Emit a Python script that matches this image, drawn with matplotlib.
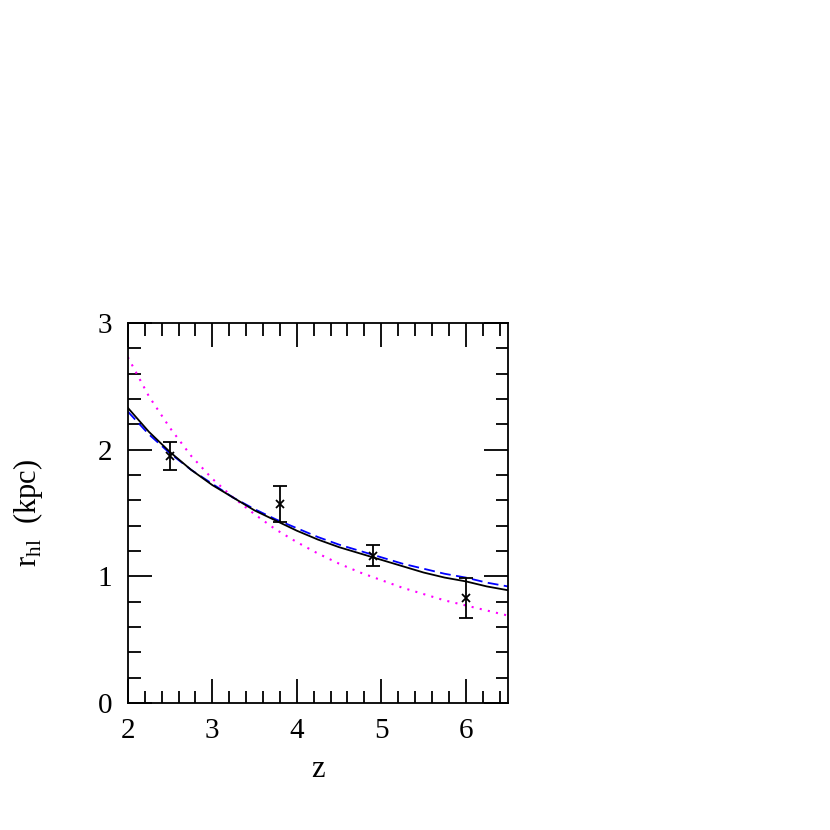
import numpy as np
import matplotlib
matplotlib.use('Agg')
import matplotlib.pyplot as plt
from matplotlib.ticker import MultipleLocator

plt.rcParams['font.family'] = 'serif'
plt.rcParams['font.serif'] = ['Liberation Serif', 'DejaVu Serif']
plt.rcParams['mathtext.fontset'] = 'custom'
plt.rcParams['mathtext.rm'] = 'Liberation Serif'

# measured half-light radii
z_obs = [2.5, 3.8, 4.9, 6.0]
r_obs = [1.95, 1.57, 1.16, 0.83]
r_lo = [1.84, 1.43, 1.08, 0.67]
r_hi = [2.06, 1.71, 1.25, 0.99]

# model curves
z_mod = [2.0, 2.25, 2.5, 2.75, 3.0, 3.25, 3.5, 3.75, 4.0, 4.25,
         4.5, 4.75, 5.0, 5.25, 5.5, 5.75, 6.0, 6.25, 6.5]
r_solid = [2.33, 2.14, 1.98, 1.84, 1.72, 1.62, 1.52, 1.44, 1.36, 1.29,
           1.23, 1.18, 1.13, 1.08, 1.03, 0.99, 0.96, 0.92, 0.89]
r_dashed = [2.30, 2.12, 1.97, 1.84, 1.73, 1.62, 1.53, 1.45, 1.38, 1.31,
            1.25, 1.20, 1.15, 1.10, 1.06, 1.02, 0.99, 0.95, 0.92]
r_dotted = [2.73, 2.42, 2.17, 1.95, 1.77, 1.62, 1.49, 1.37, 1.27, 1.18,
            1.10, 1.03, 0.97, 0.91, 0.86, 0.81, 0.77, 0.73, 0.69]

fig = plt.figure(figsize=(8.3, 8.3), dpi=100)
ax = fig.add_axes([0.154, 0.153, 0.458, 0.458])

ax.plot(z_mod, r_dotted, color='magenta', ls=(0, (1, 3)), lw=1.5)
ax.plot(z_mod, r_dashed, color='blue', ls=(0, (6, 3)), lw=1.3)
ax.plot(z_mod, r_solid, color='black', ls='-', lw=1.3)

yerr = [np.array(r_obs) - np.array(r_lo), np.array(r_hi) - np.array(r_obs)]
ax.errorbar(z_obs, r_obs, yerr=yerr, fmt='x', color='black', ms=6, mew=1.3,
            elinewidth=1.3, capsize=5, capthick=1.3)

ax.set_xlim(2, 6.5)
ax.set_ylim(0, 3)
ax.xaxis.set_major_locator(MultipleLocator(1))
ax.xaxis.set_minor_locator(MultipleLocator(0.2))
ax.yaxis.set_major_locator(MultipleLocator(1))
ax.yaxis.set_minor_locator(MultipleLocator(0.2))
ax.tick_params(which='both', direction='in', top=True, right=True, width=1.3,
               labelsize=21)
ax.tick_params(which='major', length=17, pad=11)
ax.tick_params(which='minor', length=9)
for s in ax.spines.values():
    s.set_linewidth(1.3)

ax.set_xlabel('z', fontsize=22, labelpad=8)
ax.set_ylabel(r'r$_{\mathrm{hl}}$  (kpc)', fontsize=22, labelpad=38)

fig.savefig('out.png', dpi=100)
